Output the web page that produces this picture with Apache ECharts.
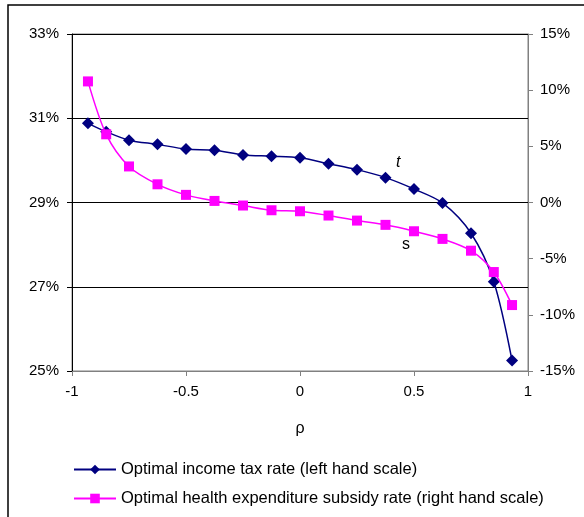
<!DOCTYPE html>
<html>
<head>
<meta charset="utf-8">
<script src="https://cdn.jsdelivr.net/npm/echarts@6/dist/echarts.min.js"></script>
<style>
html,body{margin:0;padding:0;background:#fff;}
#chart{width:584px;height:517px;}
</style>
</head>
<body>
<div id="chart"></div>
<script>
// Data
const rho = [-0.93, -0.85, -0.75, -0.625, -0.5, -0.375, -0.25, -0.125, 0, 0.125, 0.25, 0.375, 0.5, 0.625, 0.75, 0.85, 0.93];
const taxRate = [30.88, 30.68, 30.48, 30.38, 30.27, 30.24, 30.13, 30.10, 30.06, 29.92, 29.78, 29.59, 29.32, 28.99, 28.27, 27.12, 25.25];
const subsidyRate = [10.78, 6.07, 3.21, 1.62, 0.68, 0.14, -0.27, -0.69, -0.78, -1.16, -1.61, -1.99, -2.56, -3.24, -4.29, -6.19, -9.13];
const xTicks = [-1, -0.5, 0, 0.5, 1];
const leftTicks = [25, 27, 29, 31, 33];
const rightTicks = [-15, -10, -5, 0, 5, 10, 15];
const seriesNames = ['Optimal income tax rate (left hand scale)', 'Optimal health expenditure subsidy rate (right hand scale)'];

const font = 'Liberation Sans, Arial, sans-serif';
const chart = echarts.init(document.getElementById('chart'), null, {renderer: 'canvas'});
const pair = (xs, ys) => xs.map((x, i) => [x, ys[i]]);

chart.setOption({
  animation: false,
  backgroundColor: '#fff',
  textStyle: {fontFamily: font},
  grid: {left: 72, right: 56, top: 34, bottom: 146, containLabel: false,
         show: true, borderColor: '#808080', borderWidth: 1},
  legend: {
    orient: 'vertical', left: 68, top: 456,
    itemWidth: 42, itemHeight: 12, itemGap: 12,
    textStyle: {fontFamily: font, fontSize: 16.5, color: '#000'},
    data: seriesNames
  },
  xAxis: {
    type: 'value', min: xTicks[0], max: xTicks[xTicks.length - 1], interval: 0.5,
    name: 'ρ', nameLocation: 'middle', nameGap: 50,
    nameTextStyle: {fontFamily: font, fontSize: 16, color: '#000'},
    axisLine: {show: true, onZero: false, lineStyle: {color: '#808080', width: 1}},
    axisTick: {show: true, length: 5, lineStyle: {color: '#808080'}},
    axisLabel: {fontFamily: font, fontSize: 15, color: '#000', margin: 13,
                formatter: v => String(v)},
    splitLine: {show: false}
  },
  yAxis: [
    {
      type: 'value', position: 'left', min: leftTicks[0], max: leftTicks[leftTicks.length - 1], interval: 2,
      axisLine: {show: true, onZero: false, lineStyle: {color: '#000', width: 1}},
      axisTick: {show: true, length: 5, lineStyle: {color: '#000'}},
      axisLabel: {fontFamily: font, fontSize: 15, color: '#000', margin: 13, formatter: v => v + '%'},
      splitLine: {show: true, lineStyle: {color: '#000', width: 1}}
    },
    {
      type: 'value', position: 'right', min: rightTicks[0], max: rightTicks[rightTicks.length - 1], interval: 5,
      axisLine: {show: true, onZero: false, lineStyle: {color: '#808080', width: 1}},
      axisTick: {show: true, length: 5, lineStyle: {color: '#808080'}},
      axisLabel: {fontFamily: font, fontSize: 15, color: '#000', margin: 12, formatter: v => v + '%'},
      splitLine: {show: false}
    }
  ],
  series: [
    {
      name: seriesNames[0], type: 'line', yAxisIndex: 0, smooth: 0.3,
      data: pair(rho, taxRate),
      symbol: 'diamond', symbolSize: 12,
      itemStyle: {color: '#000080'},
      lineStyle: {color: '#000080', width: 1.5},
      z: 3
    },
    {
      name: seriesNames[1], type: 'line', yAxisIndex: 1, smooth: 0.3,
      data: pair(rho, subsidyRate),
      symbol: 'rect', symbolSize: 10,
      itemStyle: {color: '#FF00FF'},
      lineStyle: {color: '#FF00FF', width: 1.5},
      z: 4
    }
  ],
  graphic: [
    {type: 'rect', shape: {x: 8, y: 5, width: 640, height: 600},
     style: {fill: null, stroke: '#000', lineWidth: 1.5}, silent: true, z: 100},
    {type: 'text', left: 396, top: 155,
     style: {text: 't', font: 'italic 16px ' + font, fill: '#000'}},
    {type: 'text', left: 402, top: 237,
     style: {text: 's', font: '16px ' + font, fill: '#000'}}
  ]
});
</script>
</body>
</html>
